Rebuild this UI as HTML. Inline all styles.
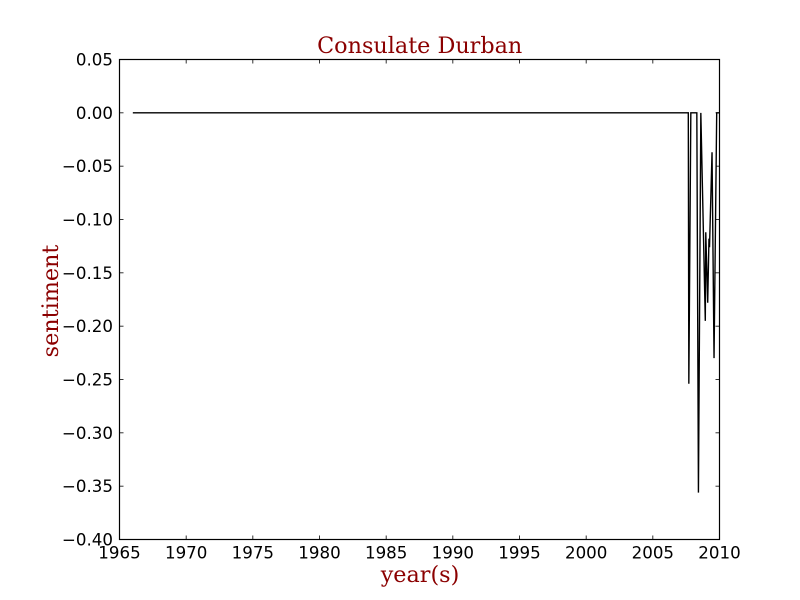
<!DOCTYPE html>
<html>
<head>
<meta charset="utf-8">
<title>Consulate Durban</title>
<style>
html,body{margin:0;padding:0;background:#fff;width:800px;height:600px;overflow:hidden}
svg{display:block}
.tick-text{font-family:"DejaVu Sans",sans-serif;font-size:16.67px;fill:#000}
.label-text{font-family:"DejaVu Serif",serif;fill:#8b0000}
</style>
</head>
<body>
<svg id="chart" xmlns="http://www.w3.org/2000/svg" width="800" height="600" viewBox="0 0 800 600">
  <rect x="0" y="0" width="800" height="600" fill="#fff"/>
  <text class="label-text" x="419.7" y="53" font-size="22.3" text-anchor="middle">Consulate Durban</text>
  <text class="label-text" x="420" y="582" font-size="22.3" text-anchor="middle">year(s)</text>
  <text class="label-text" x="0" y="0" font-size="22.3" text-anchor="middle" transform="translate(58,301) rotate(-90)">sentiment</text>
  <g id="ticks"></g>
  <polyline id="series" fill="none" stroke="#000" stroke-width="1.39" stroke-linejoin="miter" stroke-miterlimit="10"></polyline>
  <rect x="119.5" y="59.5" width="600" height="480" fill="none" stroke="#000" stroke-width="1.2"/>
</svg>
<script>
const years = [1966, 1980, 1995, 2007.66, 2007.7, 2007.85, 2008.3, 2008.42, 2008.6, 2008.935, 2008.97, 2009.115, 2009.21, 2009.25, 2009.44, 2009.59, 2009.79, 2009.96];
const sentiment = [0, 0, 0, 0, -0.254, 0, 0, -0.356, 0, -0.195, -0.112, -0.178, -0.118, -0.126, -0.037, -0.23, 0, 0];
const xTickLabels = [1965, 1970, 1975, 1980, 1985, 1990, 1995, 2000, 2005, 2010];
const yTickLabels = [0.05, 0, -0.05, -0.10, -0.15, -0.20, -0.25, -0.30, -0.35, -0.40];

const NS = 'http://www.w3.org/2000/svg';
const plotLeft = 119.5, plotRight = 719.5, plotTop = 59.5, plotBottom = 539.5;
const xMin = 1965, xMax = 2010, yMin = -0.40, yMax = 0.05;
const tickLen = 4;

function xScale(v) {
  return plotLeft + (v - xMin) / (xMax - xMin) * (plotRight - plotLeft);
}
function yScale(v) {
  return plotBottom - (v - yMin) / (yMax - yMin) * (plotBottom - plotTop);
}
function formatY(v) {
  const s = Math.abs(v).toFixed(2);
  return v < 0 ? '\u2212' + s : s;
}

const tickGroup = document.getElementById('ticks');

function addTickMark(x1, y1, x2, y2, name) {
  const line = document.createElementNS(NS, 'line');
  line.setAttribute('x1', x1);
  line.setAttribute('y1', y1);
  line.setAttribute('x2', x2);
  line.setAttribute('y2', y2);
  line.setAttribute('stroke', '#000');
  line.setAttribute('stroke-width', '0.8');
  
  
  tickGroup.appendChild(line);
}

xTickLabels.forEach(function (v) {
  const x = xScale(v);
  addTickMark(x, plotBottom, x, plotBottom - tickLen, 'x-tick-bottom');
  addTickMark(x, plotTop, x, plotTop + tickLen, 'x-tick-top');
  const t = document.createElementNS(NS, 'text');
  t.setAttribute('x', x);
  t.setAttribute('y', 558.5);
  t.setAttribute('text-anchor', 'middle');
  t.setAttribute('class', 'tick-text');
  
  
  t.textContent = String(v);
  tickGroup.appendChild(t);
});

yTickLabels.forEach(function (v) {
  const y = yScale(v);
  addTickMark(plotLeft, y, plotLeft + tickLen, y, 'y-tick-left');
  addTickMark(plotRight, y, plotRight - tickLen, y, 'y-tick-right');
  const t = document.createElementNS(NS, 'text');
  t.setAttribute('x', 113);
  t.setAttribute('y', y + 6);
  t.setAttribute('text-anchor', 'end');
  t.setAttribute('class', 'tick-text');
  
  
  t.textContent = formatY(v);
  tickGroup.appendChild(t);
});

document.getElementById('series').setAttribute('points', years.map(function (yr, i) {
  return xScale(yr).toFixed(2) + ',' + yScale(sentiment[i]).toFixed(2);
}).join(' '));
</script>
</body>
</html>
